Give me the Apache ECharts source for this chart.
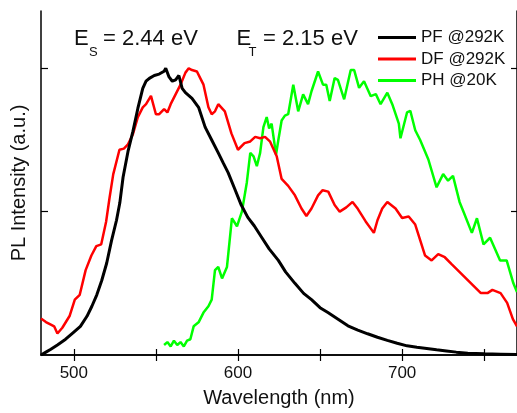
<!DOCTYPE html>
<html>
<head>
<meta charset="utf-8">
<script src="https://cdn.jsdelivr.net/npm/echarts@6/dist/echarts.min.js"></script>
<style>html,body{margin:0;padding:0;background:#fff}#c{width:517px;height:413px}</style>
</head>
<body>
<div id="c"></div>
<script>
const xTicks = [500, 550, 600, 650, 700, 750];
const xLabels = [500, 600, 700];
const yTicks = [0.5, 1.0];
const seriesNames = ['PF @292K', 'DF @292K', 'PH @20K'];

const pfX = [480,483,486,490,495,500,504,508,511,514,517,520,523,526,528,530,533,536,539,542,544,546,549,552,555,556,558,560,562,564,566,568,572,576,580,584,588,591,594,598,602,606,610,614.5,619,624.6,629,634.7,640,644.8,650,654.8,661,667,673,679,685,691,697,703,709,715,721,727,733,740,750,760,770];
const pfY = [0.0,0.01,0.02,0.035,0.055,0.08,0.10,0.135,0.17,0.21,0.26,0.32,0.40,0.47,0.53,0.62,0.71,0.78,0.86,0.93,0.955,0.965,0.975,0.98,0.99,1.0,0.97,0.955,0.96,0.975,0.93,0.915,0.895,0.864,0.795,0.75,0.705,0.67,0.636,0.58,0.523,0.48,0.45,0.41,0.37,0.33,0.29,0.25,0.215,0.193,0.165,0.148,0.125,0.102,0.087,0.074,0.062,0.051,0.041,0.032,0.027,0.023,0.018,0.014,0.01,0.006,0.004,0.003,0.002];

const dfX = [480,483,486,488,490,493,497.5,500.6,503.6,507.2,510.7,513.7,516.7,519.7,521.7,524,527.8,530.5,533,536,539,542,544,547,550,552,555,557,559,562,565,568,570,572,575,577,579,582,584,586,588,592,596,600,604,607.5,610.5,613.5,616.5,619.6,623.6,626.6,630.6,634.7,638.7,641.7,644.8,648.8,651.6,655,658.9,662,666,669.8,673,677.8,682.8,685,687.9,691,696,700,704,708,714,718,722,726,730,736,742,748,752,755,760,764,767.5,770];
const dfY = [0.127,0.115,0.106,0.10,0.075,0.095,0.137,0.193,0.21,0.296,0.347,0.38,0.386,0.466,0.546,0.63,0.716,0.72,0.735,0.77,0.83,0.864,0.875,0.904,0.84,0.84,0.858,0.846,0.875,0.909,0.943,0.985,1.0,0.994,0.989,0.966,0.943,0.864,0.84,0.85,0.875,0.85,0.773,0.716,0.739,0.745,0.761,0.756,0.761,0.744,0.693,0.614,0.59,0.557,0.511,0.485,0.511,0.557,0.575,0.57,0.523,0.50,0.515,0.534,0.51,0.466,0.426,0.47,0.511,0.534,0.511,0.478,0.483,0.455,0.347,0.33,0.352,0.341,0.318,0.284,0.25,0.216,0.216,0.227,0.216,0.182,0.125,0.10];

const phX = [555,557,559,561,563,565,567,569,571,573,576,579,582,584,586,588,590.3,593.3,596.3,599.4,602.4,605.4,607.5,609.5,611.5,613.5,615.5,617.5,619,620.5,623.2,624.6,626.6,628.6,630.6,633.7,636.7,639.7,642.7,644.8,648.8,651.8,653.8,655.9,658.9,660.9,664.7,668.7,670.8,673.8,676.8,680.9,684,686.9,691,694,698,699,703,705,708,711,716,721,725,728,731,735,737.4,742.5,745.6,749.6,753.6,759.7,763.7,767.8,770];
const phY = [0.035,0.045,0.03,0.05,0.035,0.045,0.03,0.05,0.055,0.10,0.114,0.148,0.17,0.193,0.296,0.307,0.267,0.307,0.477,0.449,0.50,0.602,0.705,0.693,0.659,0.705,0.795,0.83,0.79,0.807,0.699,0.75,0.818,0.835,0.84,0.943,0.85,0.909,0.875,0.92,0.989,0.943,0.943,0.886,0.966,0.96,0.892,0.994,0.994,0.932,0.955,0.903,0.91,0.875,0.915,0.875,0.807,0.756,0.846,0.852,0.784,0.75,0.682,0.585,0.631,0.608,0.625,0.534,0.5,0.426,0.477,0.386,0.409,0.33,0.33,0.25,0.22];

const zip = (a, b) => a.map((v, i) => [v, b[i]]);
const FONT = "'Liberation Sans', Arial, sans-serif";
const chart = echarts.init(document.getElementById('c'));

const axisLine = { show: true, lineStyle: { color: '#000', width: 1.5 } };
const tickStyle = { color: '#000', width: 1.2 };

chart.setOption({
  animation: false,
  backgroundColor: '#fff',
  grid: { left: 41, top: 11, width: 479, height: 352.4, containLabel: false },
  xAxis: [
    { type: 'value', min: 480, max: 770, position: 'bottom',
      axisLine, splitLine: { show: false },
      axisTick: { inside: true, length: 6, lineStyle: tickStyle, customValues: xTicks },
      axisLabel: { customValues: xLabels, fontSize: 17, color: '#111', margin: 10, fontFamily: FONT },
      name: 'Wavelength (nm)', nameLocation: 'middle', nameGap: 33,
      nameTextStyle: { fontSize: 20, color: '#111', fontFamily: FONT } },
    { type: 'value', min: 480, max: 770, position: 'top',
      axisLine, splitLine: { show: false },
      axisTick: { inside: true, length: 6, lineStyle: tickStyle, customValues: xTicks },
      axisLabel: { show: false } }
  ],
  yAxis: [
    { type: 'value', min: 0, max: 1.2, position: 'left',
      axisLine, splitLine: { show: false },
      axisTick: { inside: true, length: 7, lineStyle: tickStyle, customValues: yTicks },
      axisLabel: { show: false },
      name: 'PL Intensity (a.u.)', nameLocation: 'middle', nameGap: 12,
      nameTextStyle: { fontSize: 20, color: '#111', fontFamily: FONT } },
    { type: 'value', min: 0, max: 1.2, position: 'right',
      axisLine, splitLine: { show: false },
      axisTick: { inside: true, length: 6, lineStyle: tickStyle, customValues: yTicks },
      axisLabel: { show: false } }
  ],
  legend: {
    orient: 'vertical', left: 378, top: 29, padding: 0,
    icon: 'rect', itemWidth: 38, itemHeight: 3, itemGap: 4.5,
    textStyle: { fontSize: 17, color: '#111', fontFamily: FONT, lineHeight: 17 },
    data: seriesNames
  },
  series: [
    { name: seriesNames[0], type: 'line', data: zip(pfX, pfY), showSymbol: false, symbol: 'none',
      lineStyle: { color: '#000', width: 3 }, itemStyle: { color: '#000' }, z: 3 },
    { name: seriesNames[1], type: 'line', data: zip(dfX, dfY), showSymbol: false, symbol: 'none',
      lineStyle: { color: '#ff0000', width: 2.5 }, itemStyle: { color: '#ff0000' }, z: 2 },
    { name: seriesNames[2], type: 'line', data: zip(phX, phY), showSymbol: false, symbol: 'none',
      lineStyle: { color: '#00ff00', width: 2.5 }, itemStyle: { color: '#00ff00' }, z: 1 }
  ],
  graphic: [
    { type: 'text', x: 74, y: 39, style: { text: 'E', font: '22px ' + FONT, fill: '#111', verticalAlign: 'middle' } },
    { type: 'text', x: 89, y: 52.5, style: { text: 'S', font: '13px ' + FONT, fill: '#111', verticalAlign: 'middle' } },
    { type: 'text', x: 103, y: 39, style: { text: '= 2.44 eV', font: '22px ' + FONT, fill: '#111', verticalAlign: 'middle' } },
    { type: 'text', x: 236.5, y: 39, style: { text: 'E', font: '22px ' + FONT, fill: '#111', verticalAlign: 'middle' } },
    { type: 'text', x: 248.5, y: 52.5, style: { text: 'T', font: '13px ' + FONT, fill: '#111', verticalAlign: 'middle' } },
    { type: 'text', x: 263, y: 39, style: { text: '= 2.15 eV', font: '22px ' + FONT, fill: '#111', verticalAlign: 'middle' } }
  ]
});
</script>
</body>
</html>
